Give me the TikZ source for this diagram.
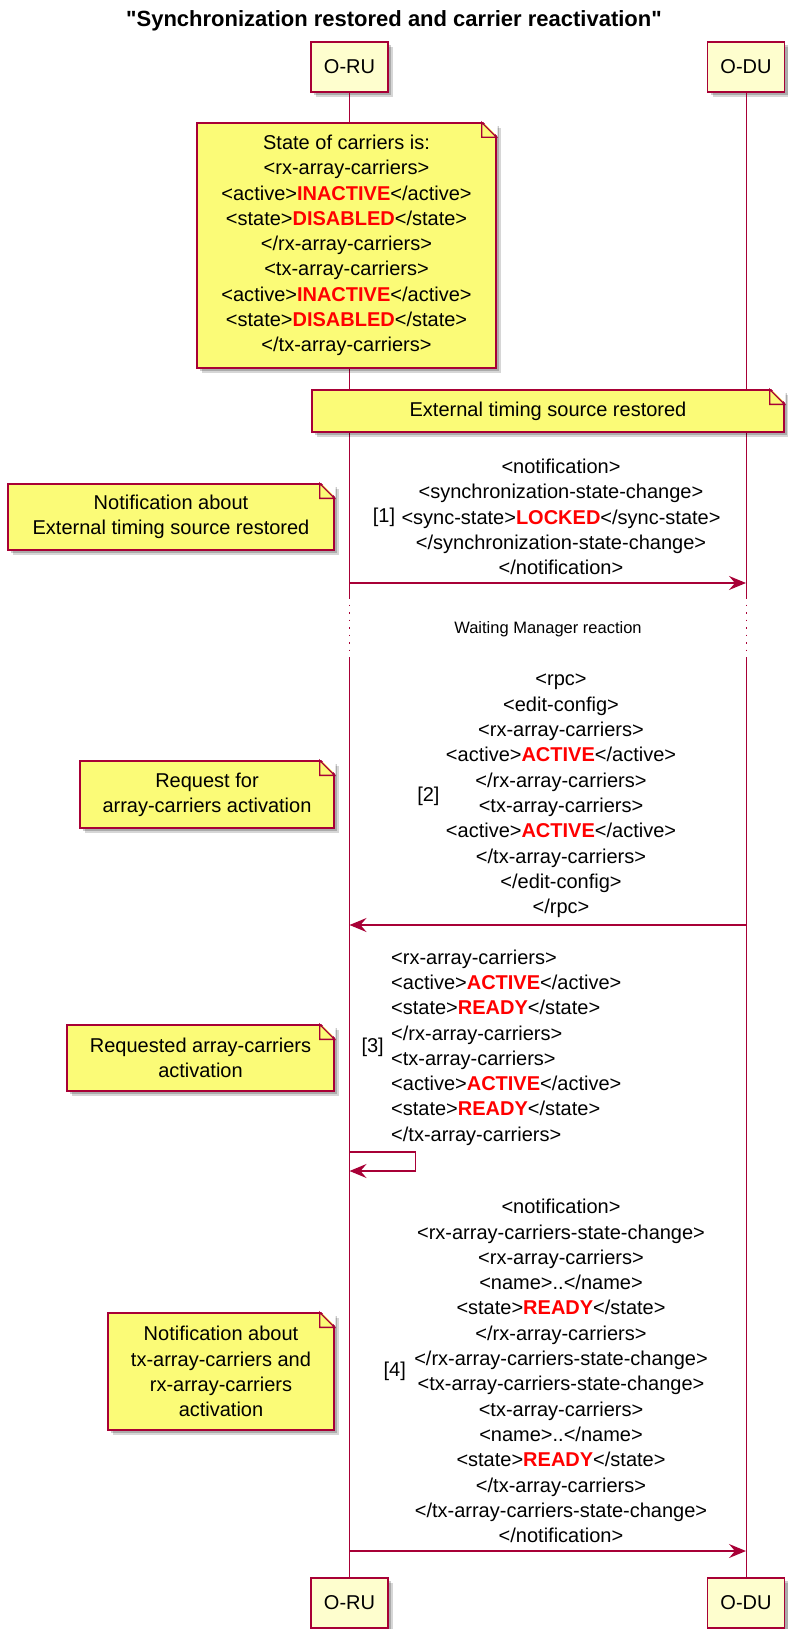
\documentclass[tikz,border=0pt]{standalone}
\usepackage{fontspec}
\setmainfont{Liberation Sans}[Ligatures=TeXOff]
\usepackage{tikz}
\usetikzlibrary{arrows.meta, positioning, calc, shadows}
\definecolor{uml-border}{HTML}{A80036}
\definecolor{uml-box}{HTML}{FEFECE}
\definecolor{uml-note}{HTML}{FBFB77}
\definecolor{uml-hot}{HTML}{FF0000}
\newcommand{\redval}[1]{\textcolor{uml-hot}{\textbf{#1}}}

\begin{document}
\begin{tikzpicture}[
    x=1pt, y=-1pt,
    every node/.style={inner sep=0pt, font=\fontsize{20}{25.3}\selectfont},
    soft shadow/.style={drop shadow={shadow xshift=5pt, shadow yshift=-5pt, fill=black, opacity=0.16}, drop shadow={shadow xshift=3pt, shadow yshift=-3pt, fill=black, opacity=0.2}},
    party/.style={rectangle, draw=uml-border, line width=1.3pt, fill=uml-box, minimum width=77pt, minimum height=50pt, soft shadow},
    note/.style={rectangle, draw=uml-border, line width=1.3pt, fill=uml-note, align=center, soft shadow},
    fold/.style={draw=uml-border, fill=uml-note, line width=1.3pt},
    lifeline/.style={draw=uml-border, line width=1pt},
    pause/.style={lifeline, dash pattern=on 1.5pt off 6pt},
    msg/.style={align=center},
    arrow/.style={-{Stealth[length=17pt, width=14pt, inset=6pt]}, draw=uml-border, line width=1.3pt}
]
    \useasboundingbox (0,0) rectangle (787,1629);

    % Title
    \node[font=\fontsize{22}{26}\selectfont\bfseries] (title) at (394,21) {"Synchronization restored and carrier reactivation"};

    % Participants
    \node[party] (ru) at (349.5,67) {O-RU};
    \node[party] (du) at (746,67) {O-DU};
    \node[party] (ru-end) at (349.5,1603) {O-RU};
    \node[party] (du-end) at (746,1603) {O-DU};

    % Lifelines
    \coordinate (ru-p1) at (349.5,597);
    \coordinate (ru-p2) at (349.5,659);
    \coordinate (du-p1) at (746,597);
    \coordinate (du-p2) at (746,659);
    \draw[lifeline] (ru) -- (ru-p1);
    \draw[pause] (ru-p1) -- (ru-p2);
    \draw[lifeline] (ru-p2) -- (ru-end);
    \draw[lifeline] (du) -- (du-p1);
    \draw[pause] (du-p1) -- (du-p2);
    \draw[lifeline] (du-p2) -- (du-end);

    % Notes
    \node[note, minimum width=299pt, minimum height=245pt] (carriers) at (346.5,245.5) {State of carriers is:\\ <rx-array-carriers>\\ <active>\redval{INACTIVE}</active>\\ <state>\redval{DISABLED}</state>\\ </rx-array-carriers>\\ <tx-array-carriers>\\ <active>\redval{INACTIVE}</active>\\ <state>\redval{DISABLED}</state>\\ </tx-array-carriers>};
    \node[note, minimum width=472pt, minimum height=42pt] (restored) at (548,411) {External timing source restored};
    \node[note, minimum width=326pt, minimum height=66pt] (syncnote) at (171,517) {Notification about\\ External timing source restored};
    \node[note, minimum width=254pt, minimum height=67pt] (reqnote) at (207,794.5) {Request for\\ array-carriers activation};
    \node[note, minimum width=267pt, minimum height=66pt] (readynote) at (200.5,1058) {Requested array-carriers\\ activation};
    \node[note, minimum width=226pt, minimum height=117pt] (statenote) at (221,1371.5) {Notification about\\ tx-array-carriers and\\ rx-array-carriers\\ activation};

    % Dog-ears
    \foreach \n in {carriers, restored, syncnote, reqnote, readynote, statenote} {
        \fill[white] ([xshift=-14pt, yshift=1pt]\n.north east) -- ([xshift=1pt, yshift=1pt]\n.north east) -- ([xshift=1pt, yshift=-14pt]\n.north east) -- cycle;
        \draw[fold] ([xshift=-15pt]\n.north east) |- ([yshift=-15pt]\n.north east) -- cycle;
    }

    % [1]
    \coordinate (m1-from) at (349.5,583);
    \coordinate (m1-to) at (746,583);
    \node[msg] (m1) at (561,517) {<notification>\\ <synchronization-state-change>\\ <sync-state>\redval{LOCKED}</sync-state>\\ </synchronization-state-change>\\ </notification>};
    \node[left=6pt of m1] (m1-num) {[1]};
    \draw[arrow] (m1-from) -- (m1-to);

    % Pause
    \node[font=\fontsize{16.5}{20}\selectfont] (waiting) at (548,629) {Waiting Manager reaction};

    % [2]
    \coordinate (m2-from) at (746,925);
    \coordinate (m2-to) at (349.5,925);
    \node[msg] (m2) at (561,796) {<rpc>\\ <edit-config>\\ <rx-array-carriers>\\ <active>\redval{ACTIVE}</active>\\ </rx-array-carriers>\\ <tx-array-carriers>\\ <active>\redval{ACTIVE}</active>\\ </tx-array-carriers>\\ </edit-config>\\ </rpc>};
    \node[left=6pt of m2] (m2-num) {[2]};
    \draw[arrow] (m2-from) -- (m2-to);

    % [3]
    \coordinate (m3-from) at (349.5,1152);
    \coordinate (m3-to) at (349.5,1171);
    \node[msg, align=left, anchor=west] (m3) at (391,1047.5) {<rx-array-carriers>\\ <active>\redval{ACTIVE}</active>\\ <state>\redval{READY}</state>\\ </rx-array-carriers>\\ <tx-array-carriers>\\ <active>\redval{ACTIVE}</active>\\ <state>\redval{READY}</state>\\ </tx-array-carriers>};
    \node[left=7pt of m3] (m3-num) {[3]};
    \draw[arrow] (m3-from) -- ++(66,0) |- (m3-to);

    % [4]
    \coordinate (m4-from) at (349.5,1551);
    \coordinate (m4-to) at (746,1551);
    \node[msg] (m4) at (561,1371) {<notification>\\ <rx-array-carriers-state-change>\\ <rx-array-carriers>\\ <name>..</name>\\ <state>\redval{READY}</state>\\ </rx-array-carriers>\\ </rx-array-carriers-state-change>\\ <tx-array-carriers-state-change>\\ <tx-array-carriers>\\ <name>..</name>\\ <state>\redval{READY}</state>\\ </tx-array-carriers>\\ </tx-array-carriers-state-change>\\ </notification>};
    \node[left=8pt of m4] (m4-num) {[4]};
    \draw[arrow] (m4-from) -- (m4-to);
\end{tikzpicture}
\end{document}
